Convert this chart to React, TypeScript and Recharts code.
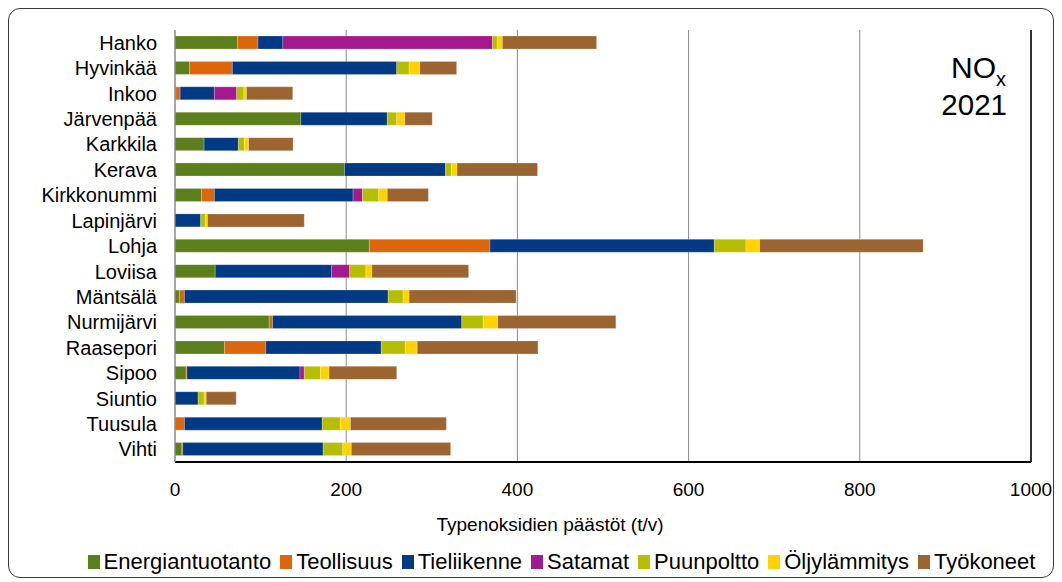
import React from "react";
import {
  BarChart,
  Bar,
  XAxis,
  YAxis,
  CartesianGrid,
  Legend,
  ReferenceLine,
  Customized,
} from "recharts";

// ---------------------------------------------------------------------------
// Data (t/v)
// ---------------------------------------------------------------------------

const kunnat = [
  "Hanko", "Hyvinkää", "Inkoo", "Järvenpää", "Karkkila", "Kerava",
  "Kirkkonummi", "Lapinjärvi", "Lohja", "Loviisa", "Mäntsälä",
  "Nurmijärvi", "Raasepori", "Sipoo", "Siuntio", "Tuusula", "Vihti",
];

const energiantuotanto = [73, 17, 1, 147, 34, 198, 31, 0, 227, 47, 5, 110, 58, 13, 0, 0, 8];
const teollisuus = [24, 50, 5, 0, 0, 0, 15, 0, 141, 0, 6, 4, 48, 1, 0, 11, 1];
const tieliikenne = [29, 192, 40, 101, 40, 118, 162, 30, 262, 136, 238, 221, 135, 132, 27, 161, 164];
const satamat = [245, 0, 26, 0, 0, 0, 11, 0, 0, 21, 0, 0, 0, 5, 0, 0, 0];
const puunpoltto = [5.5, 14.5, 8.5, 11, 7, 7, 19, 5.5, 37, 19, 17.5, 25, 28, 19, 7, 21, 23];
const oljylammitys = [6, 12.5, 3, 9.5, 5, 6.5, 10, 2.5, 16, 7, 7, 17, 14, 10, 2.5, 12, 10];
const tyokoneet = [110, 43, 54, 32, 52, 94, 48, 113, 191, 113, 125, 138, 141, 79, 35, 112, 116];

const xTicks = [0, 200, 400, 600, 800, 1000];

const SERIES = [
  { key: "energiantuotanto", name: "Energiantuotanto", color: "#5b7f1a", values: energiantuotanto },
  { key: "teollisuus", name: "Teollisuus", color: "#dd660d", values: teollisuus },
  { key: "tieliikenne", name: "Tieliikenne", color: "#003a84", values: tieliikenne },
  { key: "satamat", name: "Satamat", color: "#a5198f", values: satamat },
  { key: "puunpoltto", name: "Puunpoltto", color: "#b5be00", values: puunpoltto },
  { key: "oljylammitys", name: "Öljylämmitys", color: "#ffd200", values: oljylammitys },
  { key: "tyokoneet", name: "Työkoneet", color: "#9c6430", values: tyokoneet },
];

const data = kunnat.map((name, i) => {
  const row: Record<string, string | number> = { name };
  SERIES.forEach((s) => {
    row[s.key] = s.values[i];
  });
  return row;
});

const FONT = "'Liberation Sans', Arial, sans-serif";

// ---------------------------------------------------------------------------
// Legend
// ---------------------------------------------------------------------------

function LegendContent() {
  return (
    <div
      style={{
        display: "flex",
        justifyContent: "center",
        alignItems: "center",
        fontFamily: FONT,
        fontSize: 22,
        color: "#000",
        whiteSpace: "nowrap",
        paddingLeft: 70,
      }}
    >
      {SERIES.map((s) => (
        <span key={s.key} style={{ display: "flex", alignItems: "center", marginRight: 9 }}>
          <span
            style={{
              display: "inline-block",
              width: 12,
              height: 14,
              backgroundColor: s.color,
              marginRight: 4,
            }}
          />
          {s.name}
        </span>
      ))}
    </div>
  );
}

// Axis title and NOx badge
function Annotations() {
  return (
    <g fontFamily={FONT} fill="#000">
      <text x={541} y={522} textAnchor="middle" fontSize={19}>
        Typenoksidien päästöt (t/v)
      </text>
      <text x={997} y={69} textAnchor="end" fontSize={30}>
        NO
        <tspan fontSize={20} dy={8}>x</tspan>
      </text>
      <text x={998} y={106} textAnchor="end" fontSize={29.5}>
        2021
      </text>
    </g>
  );
}

export default function App() {
  return (
    <div
      style={{
        position: "relative",
        width: 1044,
        height: 568,
        border: "1px solid #3a3a3a",
        borderRadius: 12,
        background: "#fff",
      }}
    >
      <BarChart
        width={1044}
        height={568}
        data={data}
        layout="vertical"
        barSize={13}
        margin={{ top: 21, right: 22, left: 0, bottom: 85 }}
        style={{ position: "absolute", left: 0, top: 0 }}
      >
        <CartesianGrid horizontal={false} stroke="#8a8a8a" />
        <XAxis
          type="number"
          domain={[0, 1000]}
          ticks={xTicks}
          tickLine={false}
          tickSize={6}
          tickMargin={15}
          height={30}
          axisLine={{ stroke: "#000", strokeWidth: 2 }}
          tick={{ fill: "#000", fontSize: 19, fontFamily: FONT }}
        />
        <XAxis
          xAxisId="top"
          orientation="top"
          type="number"
          domain={[0, 1000]}
          height={0}
          tick={false}
          tickLine={false}
          axisLine={{ stroke: "#8a8a8a" }}
        />
        <YAxis
          type="category"
          dataKey="name"
          width={166}
          interval={0}
          tickLine={false}
          tickSize={6}
          tickMargin={12}
          axisLine={{ stroke: "#868686" }}
          tick={{ fill: "#000", fontSize: 20, fontFamily: FONT }}
        />
        {SERIES.map((s) => (
          <Bar
            key={s.key}
            dataKey={s.key}
            name={s.name}
            stackId="a"
            fill={s.color}
            stroke="rgba(255,255,255,0.35)"
            strokeWidth={0.6}
            isAnimationActive={false}
          />
        ))}
        <ReferenceLine x={1000} stroke="#000" strokeWidth={1.5} />
        <Legend
          verticalAlign="middle"
          align="center"
          layout="horizontal"
          wrapperStyle={{ top: 540, left: 0, width: 1044 }}
          content={() => <LegendContent />}
        />
        <Customized component={Annotations} />
      </BarChart>
    </div>
  );
}
